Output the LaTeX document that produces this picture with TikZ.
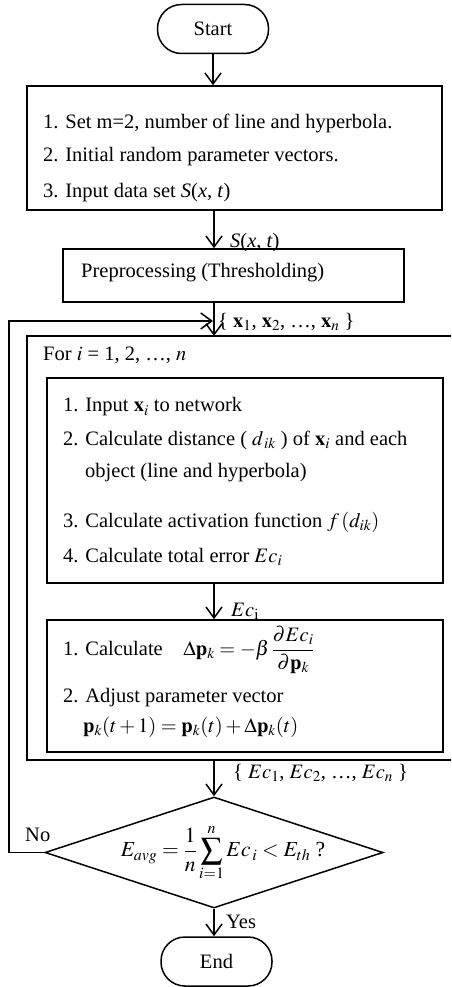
\documentclass[tikz,border=0pt]{standalone}
\usepackage{amsmath}
\usepackage{mathptmx}
\usepackage{fontspec}
\setmainfont{Liberation Serif}
\usetikzlibrary{arrows.meta,shapes.geometric}

\begin{document}
\begin{tikzpicture}[x=1pt,y=-1pt,
  every node/.style={font=\fontsize{20.5}{24}\selectfont},
  line/.style={line width=1.5pt},
  box/.style={draw, line width=1.5pt, rectangle, inner sep=0pt},
  term/.style={draw, line width=1.5pt, rectangle, rounded corners=24pt,
    minimum width=111pt, minimum height=49pt, inner sep=0pt},
  txt/.style={anchor=west, inner sep=0pt},
  lbl/.style={anchor=west, inner sep=0pt},
  arr/.style={line width=1.5pt, -{Straight Barb[length=11pt,width=16pt,line width=1.5pt]}}]

\useasboundingbox (0,0) rectangle (451,987);

% terminals
\node[term] (start) at (213,29) {Start};
\node[term] (end) at (216.5,961.5) {End};

% initialisation block
\node[box, minimum width=415pt, minimum height=124pt] (init) at (234.5,148) {};
\node[txt] (i1) at (43,123) {1. Set m=2, number of line and hyperbola.};
\node[txt] (i2) at (43,157) {2. Initial random parameter vectors.};
\node[txt] (i3) at (43,193) {3. Input data set \textit{S}(\textit{x}, \textit{t})};

% preprocessing
\node[box, minimum width=341pt, minimum height=53pt] (prep) at (233.5,275.5) {};
\node[txt] (p1) at (81,273) {Preprocessing (Thresholding)};

% loop over samples (open on the right)
\coordinate (looptop) at (214,336);
\coordinate (loopbot) at (214,760);
\draw[line] (451,336) -- (27,336) -- (27,760) -- (451,760);
\node[txt] (forl) at (43,355) {For $i$ = 1, 2, …, $n$};

% forward pass block
\node[box, minimum width=396pt, minimum height=205pt] (fwd) at (245,480.5) {};
\node[txt] (f1) at (63,407) {1. Input $\mathbf{x}_i$ to network};
\node[txt] (f2) at (63,440) {2. Calculate distance ( $d_{\,ik}$ ) of $\mathbf{x}_i$ and each};
\node[txt] (f3) at (85,473) {object (line and hyperbola)};
\node[txt] (f4) at (63,522) {3. Calculate activation function $f\,(d_{ik})$};
\node[txt] (f5) at (63,557) {4. Calculate total error $Ec_i$};

% update block
\node[box, minimum width=396pt, minimum height=132pt] (upd) at (245,686) {};
\node[txt] (u1) at (63,650) {1. Calculate\quad $\Delta\mathbf{p}_k = -\beta\,\dfrac{\partial Ec_i}{\partial\mathbf{p}_k}$};
\node[txt] (u2) at (63,698) {2. Adjust parameter vector};
\node[txt] (u3) at (83,727) {$\mathbf{p}_k(t+1) = \mathbf{p}_k(t) + \Delta\mathbf{p}_k(t)$};

% decision
\node[draw, line width=1.5pt, diamond, minimum width=338pt, minimum height=111pt,
  inner sep=0pt] (dec) at (214,852.5) {};
\node[inner sep=0pt, font=\fontsize{21.5}{25}\selectfont] (cond) at (223,853)
  {$E_{avg} = \dfrac{1}{n}\displaystyle\sum_{i=1}^{n} Ec_{\,i} < E_{th}$ ?};

% connectors
\draw[arr] (start.south) -- (start.south |- init.north);
\draw[arr] (init.south -| 214,0) -- (prep.north -| 214,0);
\node[lbl] (ls) at (230,243) {\textit{S}(\textit{x}, \textit{t})};
\draw[arr] (prep.south -| 214,0) -- (looptop);
\node[lbl] (lx) at (218,322) {\{ $\mathbf{x}_1$, $\mathbf{x}_2$, …, $\mathbf{x}_n$ \}};
\draw[arr] (fwd.south -| 214,0) -- (upd.north -| 214,0);
\node[lbl] (le) at (231,611) {$Ec_{\mathrm{i}}$};
\draw[arr] (loopbot) -- (dec.north);
\node[lbl] (lec) at (233,773) {\{ $Ec_1$, $Ec_2$, …, $Ec_n$ \}};
\draw[arr] (dec.south) -- (dec.south |- end.north);
\node[lbl] (lyes) at (226,922) {Yes};

% feedback when not converged
\coordinate (fbx) at (9,0);
\coordinate (fbend) at (213,321);
\draw[arr] (dec.west) -- (dec.west -| fbx) |- (fbend);
\node[lbl] (lno) at (25,835) {No};

\end{tikzpicture}
\end{document}
